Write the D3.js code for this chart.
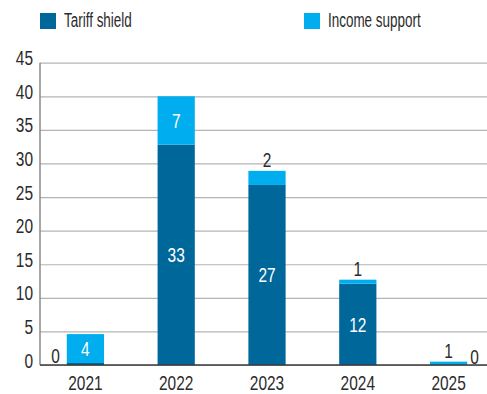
<!DOCTYPE html>
<html>
<head>
<meta charset="utf-8">
<script src="https://cdn.jsdelivr.net/npm/d3@7"></script>
<style>
  html, body { margin: 0; padding: 0; background: #fff; }
  svg text { font-family: "Liberation Sans Narrow", "Arial Narrow", "Liberation Sans", sans-serif; fill: #2b2b2b; }
</style>
</head>
<body>
<svg id="chart" width="487" height="394"></svg>
<script>
// Support measures by year (billions)
const years = ["2021", "2022", "2023", "2024", "2025"];
const tariffShield = [0.3, 32.8, 26.8, 12.1, 0.0];
const incomeSupport = [4.3, 7.2, 2.1, 0.6, 0.5];
const seriesNames = ["Tariff shield", "Income support"];
const yTicks = [0, 5, 10, 15, 20, 25, 30, 35, 40, 45];

const colors = ["#00679b", "#00aeef"];
const W = 487, H = 394;
const margin = { left: 40, top: 62.7, bottom: 365 };
const fontSize = 21;
const xFontSize = 20;

const svg = d3.select("#chart");

// squeeze factor giving condensed digits about 8.6px wide, whatever face is picked
const probe = svg.append("text").style("font-size", fontSize + "px").text("0000");
const digitW = probe.node().getComputedTextLength() / 4;
probe.remove();
const digitScale = 8.6 / digitW;
const legendScale = digitScale * 0.87;

const x = d3.scaleBand()
  .domain(years)
  .range([margin.left, 494])
  .paddingInner(0.59)
  .paddingOuter(0.295);

const y = d3.scaleLinear()
  .domain([0, 45])
  .range([margin.bottom, margin.top]);

// squeezed text anchored at (px, py)
function addText(g, px, py, str, anchor, sx, color) {
  return g.append("text")
    .attr("transform", `translate(${px},${py}) scale(${sx},1)`)
    .attr("text-anchor", anchor)
    .style("font-size", fontSize + "px")
    .style("fill", color || "#2b2b2b")
    .text(str);
}

// horizontal gridlines
const grid = svg.append("g")
  .attr("transform", `translate(${margin.left},0)`)
  .call(d3.axisLeft(y).tickValues(yTicks).tickSize(-(W - margin.left)).tickFormat(""));
grid.select(".domain").remove();
grid.selectAll(".tick line").attr("stroke", "#b4b4b4").attr("stroke-width", 1.2);

// y axis labels and line
const yAxis = svg.append("g")
  .attr("transform", `translate(${margin.left},0)`)
  .call(d3.axisLeft(y).tickValues(yTicks).tickSize(0).tickPadding(0));
yAxis.select(".domain").remove();
yAxis.selectAll(".tick text")
  .attr("x", 0).attr("y", 0).attr("dy", null)
  .attr("text-anchor", "end")
  .attr("transform", `translate(-7,2) scale(${digitScale},1)`)
  .style("font-size", fontSize + "px")
  .style("fill", "#2b2b2b");

svg.append("line")
  .attr("x1", margin.left).attr("x2", margin.left)
  .attr("y1", y(45)).attr("y2", y(0))
  .attr("stroke", "#8a8a8a").attr("stroke-width", 1.5);

// stacked bars
const stack = years.map((yr, i) => ({
  year: yr,
  segs: [
    { key: 0, y0: 0, y1: tariffShield[i], v: tariffShield[i] },
    { key: 1, y0: tariffShield[i], y1: tariffShield[i] + incomeSupport[i], v: incomeSupport[i] }
  ]
}));

const bars = svg.append("g");
stack.forEach(d => {
  d.segs.forEach(s => {
    bars.append("rect")
      .attr("x", x(d.year))
      .attr("width", x.bandwidth())
      .attr("y", y(s.y1))
      .attr("height", y(s.y0) - y(s.y1))
      .attr("fill", colors[s.key]);
  });
});

// baseline
svg.append("line")
  .attr("x1", margin.left).attr("x2", W)
  .attr("y1", y(0)).attr("y2", y(0))
  .attr("stroke", "#3a3a3a").attr("stroke-width", 1.5);

// value labels
const fmt = v => String(Math.round(v));
const labels = svg.append("g");
stack.forEach((d, i) => {
  const x0 = x(d.year), x1 = x0 + x.bandwidth(), cx = x0 + x.bandwidth() / 2;
  d.segs.forEach(s => {
    const top = y(s.y1), bot = y(s.y0), h = bot - top;
    if (h >= 20) {
      addText(labels, cx, (top + bot) / 2 + 7.5, fmt(s.v), "middle", digitScale, "#ffffff");
    } else if (s.key === 1) {
      addText(labels, cx, top - 4, fmt(s.v), "middle", digitScale);
    } else if (i < years.length / 2) {
      addText(labels, x0 - 7, y(0) - 2, fmt(s.v), "end", digitScale);
    } else {
      addText(labels, x1 + 3, y(0) - 1, fmt(s.v), "start", digitScale);
    }
  });
});

// x axis labels
const xAxis = svg.append("g")
  .attr("transform", `translate(0,${y(0)})`)
  .call(d3.axisBottom(x).tickSize(0).tickPadding(0));
xAxis.select(".domain").remove();
xAxis.selectAll(".tick text")
  .attr("y", 0).attr("dy", null)
  .attr("transform", `translate(0,24.5) scale(${digitScale * fontSize / xFontSize},1)`)
  .style("font-size", xFontSize + "px")
  .style("fill", "#2b2b2b");

// legend
const legendX = [40, 304];
const legend = svg.append("g");
seriesNames.forEach((name, i) => {
  legend.append("rect")
    .attr("x", legendX[i]).attr("y", 13)
    .attr("width", 16).attr("height", 16)
    .attr("fill", colors[i]);
  addText(legend, legendX[i] + 24, 27, name, "start", legendScale);
});
</script>
</body>
</html>
